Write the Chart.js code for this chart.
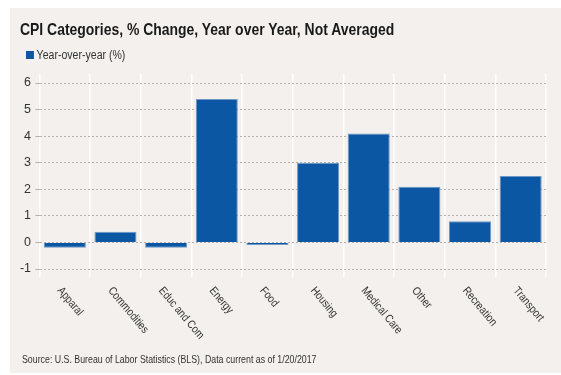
<!DOCTYPE html>
<html lang="en">
<head>
<meta charset="UTF-8">
<title>CPI Categories</title>
<style>
  html, body { margin: 0; padding: 0; background: #fff; }
  body { width: 561px; height: 375px; position: relative; overflow: hidden;
         font-family: "Liberation Sans", Arial, sans-serif; }
  #panel { position: absolute; left: 10px; top: 8px; width: 551px; height: 365px; background: #f3f0ee; }
  #panel canvas { position: absolute; left: 0; top: 0; }
  /* Liberation Sans comprimida ~ Arial Narrow */
  .estreito { transform: scaleX(0.82); transform-origin: left center; }
  #titulo { position: absolute; left: 10px; top: 13px; font-size: 17px; line-height: 17px; font-weight: bold; color: #1a1a1a; white-space: nowrap; }
  #legenda { position: absolute; left: 16px; top: 41px; font-size: 12px; line-height: 13px; color: #333; white-space: nowrap; transform: scaleX(0.88); }
  #legenda span.caixa { display: inline-block; width: 9px; height: 8px; background: #0b57a3; margin-right: 3px; }
  #fonte { position: absolute; left: 12px; top: 345px; font-size: 11px; line-height: 12px; color: #333; white-space: nowrap; transform: scaleX(0.8); }
</style>
</head>
<body>
<div id="panel">
  <canvas id="grafico" width="551" height="365"></canvas>
  <div id="titulo" class="estreito">CPI Categories, % Change, Year over Year, Not Averaged</div>
  <div id="legenda" class="estreito"><span class="caixa"></span><span id="legendaTexto"></span></div>
  <div id="fonte" class="estreito">Source: U.S. Bureau of Labor Statistics (BLS), Data current as of 1/20/2017</div>
</div>
<script src="https://cdn.jsdelivr.net/npm/chart.js"></script>
<script>
  const categorias = ['Apparal', 'Commodities', 'Educ and Com', 'Energy', 'Food', 'Housing', 'Medical Care', 'Other', 'Recreation', 'Transport'];
  const variacaoAnual = [-0.2, 0.4, -0.2, 5.4, -0.1, 3.0, 4.1, 2.1, 0.8, 2.5];
  const ticksY = [-1, 0, 1, 2, 3, 4, 5, 6];
  const nomeSerie = 'Year-over-year (%)';

  const fonte = '"Liberation Sans", Arial, sans-serif';

  document.getElementById('legendaTexto').textContent = nomeSerie;

  // rotulos do eixo x inclinados para baixo/direita
  const rotulosX = {
    id: 'rotulosX',
    afterDraw(chart) {
      const ctx = chart.ctx;
      const escalaX = chart.scales.x;
      const base = chart.chartArea.bottom + 8;
      ctx.save();
      ctx.fillStyle = '#333';
      ctx.font = '11.5px ' + fonte;
      ctx.textAlign = 'left';
      ctx.textBaseline = 'top';
      for (let i = 0; i < categorias.length; i++) {
        const x = escalaX.getPixelForValue(i) - 1;
        ctx.save();
        ctx.translate(x, base);
        ctx.rotate(50 * Math.PI / 180);
        ctx.scale(0.84, 1);
        ctx.fillText(categorias[i], 0, 0);
        ctx.restore();
      }
      ctx.restore();
    }
  };

  new Chart(document.getElementById('grafico'), {
    type: 'bar',
    data: {
      labels: categorias,
      datasets: [{
        label: nomeSerie,
        data: variacaoAnual,
        backgroundColor: '#0b57a3',
        borderColor: '#6d97c6',
        borderWidth: 1,
        categoryPercentage: 1,
        barPercentage: 0.83
      }]
    },
    options: {
      responsive: false,
      animation: false,
      layout: { padding: { left: 0, right: 15, top: 66, bottom: 96 } },
      plugins: {
        legend: { display: false },
        title: { display: false },
        tooltip: { enabled: false }
      },
      scales: {
        x: {
          grid: {
            offset: true,
            drawTicks: false,
            color: ctx => ctx.index === categorias.length ? 'rgba(0,0,0,0)' : '#ffffff',
            lineWidth: 1.5
          },
          border: { display: false },
          ticks: { display: false },
          afterFit: s => { s.height = 0; }
        },
        y: {
          min: -1.3,
          max: 6.34,
          afterBuildTicks: s => { s.ticks = ticksY.map(v => ({ value: v })); },
          afterFit: s => { s.width = 29.5; },
          grid: {
            color: '#b3b0ad',
            lineWidth: 1,
            tickLength: 4,
            drawTicks: true
          },
          border: { display: false, dash: [2, 2] },
          ticks: {
            padding: 4.5,
            color: '#333',
            font: { family: fonte, size: 12.5 }
          }
        }
      }
    },
    plugins: [rotulosX]
  });
</script>
</body>
</html>
